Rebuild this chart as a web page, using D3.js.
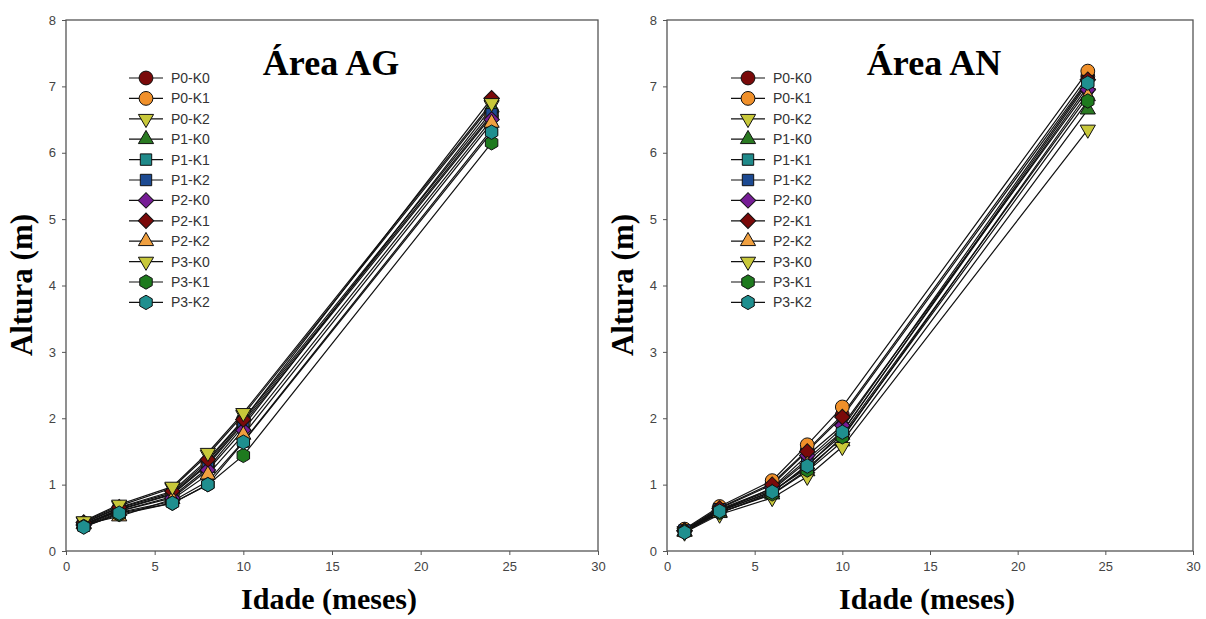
<!DOCTYPE html>
<html>
<head>
<meta charset="utf-8">
<script src="https://cdn.jsdelivr.net/npm/d3@7"></script>
<style>
  body { margin: 0; background: #fff; }
  svg { display: block; }
</style>
</head>
<body>
<svg id="chart" width="1206" height="619"></svg>
<script>
// Idade (meses) on x
const idade = [1, 3, 6, 8, 10, 24];

// series names, one per treatment
const tratamentos = ["P0-K0", "P0-K1", "P0-K2", "P1-K0", "P1-K1", "P1-K2",
                     "P2-K0", "P2-K1", "P2-K2", "P3-K0", "P3-K1", "P3-K2"];

// marker fill + shape for each treatment
const cores = ["#7a0a0a", "#f0902a", "#c8c83a", "#2a7a22", "#1f8a8a", "#1c4a92",
               "#761d96", "#7a0a0a", "#f0a040", "#c8c83a", "#1e7a1e", "#1f8f8f"];
const formas = ["circle", "circle", "down", "up", "square", "square",
                "diamond", "diamond", "up", "down", "hexagon", "hexagon"];

// Altura (m), Area AG
const alturaAG = [
  [0.42, 0.65, 0.88, 1.35, 1.98, 6.62],
  [0.40, 0.62, 0.85, 1.30, 1.92, 6.55],
  [0.44, 0.68, 0.95, 1.45, 2.05, 6.72],
  [0.41, 0.60, 0.82, 1.25, 1.88, 6.68],
  [0.38, 0.58, 0.75, 1.05, 1.65, 6.35],
  [0.40, 0.63, 0.86, 1.32, 1.95, 6.58],
  [0.39, 0.60, 0.80, 1.22, 1.82, 6.50],
  [0.43, 0.66, 0.90, 1.38, 1.98, 6.82],
  [0.40, 0.52, 0.78, 1.15, 1.75, 6.45],
  [0.45, 0.70, 0.97, 1.48, 2.08, 6.75],
  [0.37, 0.55, 0.72, 1.00, 1.44, 6.15],
  [0.36, 0.57, 0.72, 1.00, 1.64, 6.31]
];

// Altura (m), Area AN
const alturaAN = [
  [0.32, 0.65, 1.02, 1.52, 2.05, 7.15],
  [0.33, 0.67, 1.06, 1.60, 2.17, 7.23],
  [0.30, 0.60, 0.90, 1.25, 1.70, 6.90],
  [0.29, 0.58, 0.85, 1.20, 1.65, 6.65],
  [0.30, 0.62, 0.92, 1.35, 1.80, 7.00],
  [0.31, 0.63, 0.94, 1.38, 1.85, 7.08],
  [0.30, 0.60, 0.95, 1.44, 1.89, 6.95],
  [0.31, 0.64, 1.00, 1.50, 2.02, 7.10],
  [0.29, 0.57, 0.88, 1.30, 1.75, 6.85],
  [0.28, 0.55, 0.80, 1.12, 1.57, 6.35],
  [0.29, 0.58, 0.86, 1.22, 1.72, 6.78],
  [0.28, 0.60, 0.89, 1.28, 1.79, 7.05]
];

const xTicks = [0, 5, 10, 15, 20, 25, 30];
const yTicks = [0, 1, 2, 3, 4, 5, 6, 7, 8];

const svg = d3.select("#chart");
const serif = "'Liberation Serif', 'Times New Roman', serif";
const sans = "'Liberation Sans', Arial, sans-serif";

// marker path for a shape, centred on 0,0
const hexPath = r => d3.range(6).map(i => {
    const a = Math.PI / 6 + i * Math.PI / 3;
    return (i ? "L" : "M") + (r * Math.cos(a)).toFixed(2) + "," + (r * Math.sin(a)).toFixed(2);
  }).join("") + "Z";

const markerPath = shape => {
  switch (shape) {
    case "circle": return d3.symbol(d3.symbolCircle, 150)();
    case "up": return d3.symbol(d3.symbolTriangle, 100)();
    case "down": return d3.symbol(d3.symbolTriangle, 100)();
    case "square": return d3.symbol(d3.symbolSquare, 130)();
    case "diamond": return d3.symbol(d3.symbolSquare, 120)();
    case "hexagon": return hexPath(7.2);
  }
};
const markerRot = shape => shape === "down" ? 180 : shape === "diamond" ? 45 : 0;

const drawPanel = (cfg) => {
  const x = d3.scaleLinear().domain([0, 30]).range([cfg.left, cfg.right]);
  const y = d3.scaleLinear().domain([0, 8]).range([551, 20]);
  const g = svg.append("g");

  // frame
  g.append("rect")
    .attr("x", cfg.left).attr("y", 20)
    .attr("width", cfg.right - cfg.left).attr("height", 531)
    .attr("fill", "none").attr("stroke", "#555").attr("stroke-width", 1.3);

  const xAxis = g.append("g")
    .attr("transform", "translate(0,551)")
    .call(d3.axisBottom(x).tickValues(xTicks).tickSize(4).tickPadding(7));
  const yAxis = g.append("g")
    .attr("transform", "translate(" + cfg.left + ",0)")
    .call(d3.axisLeft(y).tickValues(yTicks).tickSize(4).tickPadding(6));
  [xAxis, yAxis].forEach(a => {
    a.select(".domain").remove();
    a.selectAll("line").attr("stroke", "#555");
    a.selectAll("text").attr("fill", "#444").style("font-family", sans).style("font-size", "13px");
  });

  // lines then markers
  const line = d3.line().x((d, i) => x(idade[i])).y(d => y(d));
  cfg.data.forEach(serie => {
    g.append("path").attr("d", line(serie))
      .attr("fill", "none").attr("stroke", "#111").attr("stroke-width", 1.2);
  });
  cfg.data.forEach((serie, s) => {
    g.selectAll(null).data(serie).enter().append("path")
      .attr("d", markerPath(formas[s]))
      .attr("transform", (d, i) => "translate(" + x(idade[i]) + "," + y(d) + ") rotate(" + markerRot(formas[s]) + ")")
      .attr("fill", cores[s]).attr("stroke", "#111").attr("stroke-width", 1);
  });

  // legend
  const leg = g.append("g");
  tratamentos.forEach((t, i) => {
    const ly = 78 + i * 20.4;
    leg.append("line")
      .attr("x1", cfg.legX - 17).attr("x2", cfg.legX + 17)
      .attr("y1", ly).attr("y2", ly)
      .attr("stroke", "#111").attr("stroke-width", 1.2);
    leg.append("path")
      .attr("d", markerPath(formas[i]))
      .attr("transform", "translate(" + cfg.legX + "," + ly + ") rotate(" + markerRot(formas[i]) + ")")
      .attr("fill", cores[i]).attr("stroke", "#111").attr("stroke-width", 1);
    leg.append("text")
      .attr("x", cfg.legX + 25).attr("y", ly + 5)
      .attr("fill", "#333").style("font-family", sans).style("font-size", "14px")
      .text(t);
  });

  // titles
  g.append("text")
    .attr("x", cfg.titleX).attr("y", 75)
    .attr("text-anchor", "middle")
    .style("font-family", serif).style("font-weight", "bold").style("font-size", "36px")
    .text(cfg.title);

  g.append("text")
    .attr("transform", "translate(" + (cfg.left - 34) + ",285) rotate(-90)")
    .attr("text-anchor", "middle")
    .style("font-family", serif).style("font-weight", "bold").style("font-size", "31px")
    .text("Altura (m)");

  g.append("text")
    .attr("x", (cfg.left + cfg.right) / 2 - 3).attr("y", 609)
    .attr("text-anchor", "middle")
    .style("font-family", serif).style("font-weight", "bold").style("font-size", "30px")
    .text("Idade (meses)");
};

drawPanel({ left: 66, right: 598, legX: 146, titleX: 331, title: "Área AG", data: alturaAG });
drawPanel({ left: 667, right: 1193, legX: 748, titleX: 934, title: "Área AN", data: alturaAN });
</script>
</body>
</html>
